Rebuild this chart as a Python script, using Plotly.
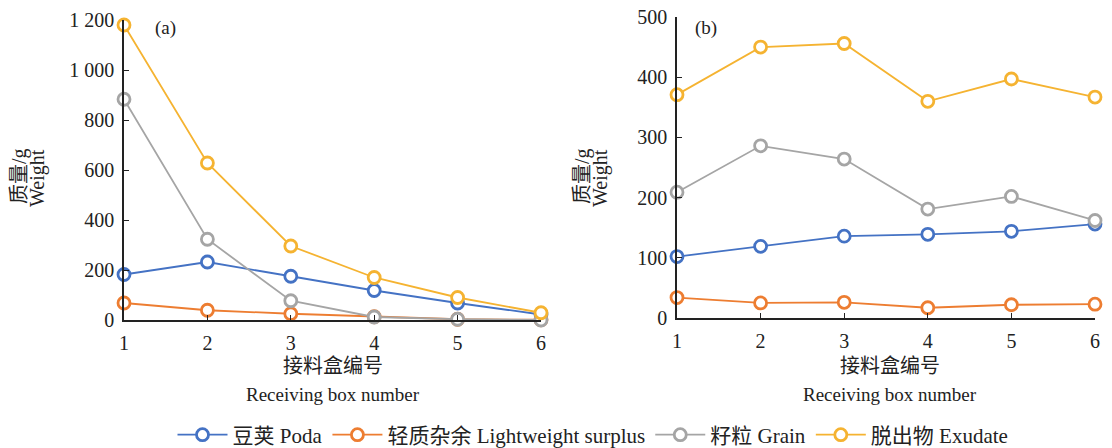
import plotly.graph_objects as go

boxes = [1, 2, 3, 4, 5, 6]

# Panel (a)
poda_a = [182, 232, 175, 118, 68, 22]
light_a = [68, 39, 25, 13, 3, 1]
grain_a = [883, 323, 77, 12, 3, 0]
exudate_a = [1180, 628, 296, 170, 90, 29]

# Panel (b)
poda_b = [102, 119, 136, 139, 144, 156]
light_b = [34, 25, 26, 17, 22, 23]
grain_b = [209, 286, 264, 181, 202, 162]
exudate_b = [371, 450, 456, 360, 397, 367]

names = ["豆荚 Poda", "轻质杂余 Lightweight surplus", "籽粒 Grain", "脱出物 Exudate"]
colors = ["#4472C4", "#ED7D31", "#A5A5A5", "#F5B331"]

FONT = "Liberation Serif, Times New Roman, Noto Sans CJK SC, serif"
W, H = 1112, 448

fig = go.Figure()

series_a = [poda_a, light_a, grain_a, exudate_a]
series_b = [poda_b, light_b, grain_b, exudate_b]

for panel, series, xa, ya in (("a", series_a, "x", "y"), ("b", series_b, "x2", "y2")):
    for i, (name, col) in enumerate(zip(names, colors)):
        fig.add_trace(go.Scatter(
            x=boxes, y=series[i], mode="lines+markers", name=name,
            line=dict(color=col, width=1.8),
            marker=dict(symbol="circle", size=12, color="white",
                        line=dict(color=col, width=2.8)),
            cliponaxis=False, xaxis=xa, yaxis=ya, legendgroup=name,
            showlegend=(panel == "a"),
        ))

axis_common = dict(
    showline=True, linecolor="#222", linewidth=1.5, showgrid=False,
    zeroline=False, ticks="inside", ticklen=5, tickcolor="#222", tickwidth=1.3,
    tickfont=dict(family=FONT, size=20, color="#222"), automargin=False,
)

fig.update_layout(
    width=W, height=H,
    margin=dict(l=0, r=0, t=0, b=0, autoexpand=False),
    paper_bgcolor="white", plot_bgcolor="white",
    separators=". ",
    font=dict(family=FONT, color="#222"),
    xaxis=dict(domain=[124 / W, 541 / W], range=[1, 6], tickvals=boxes,
               anchor="y", ticklabelstandoff=4, **axis_common),
    yaxis=dict(domain=[1 - 320 / H, 1 - 20 / H], range=[0, 1200],
               tickvals=[0, 200, 400, 600, 800, 1000, 1200],
               tickformat=",d", anchor="x", ticklabelstandoff=4, **axis_common),
    xaxis2=dict(domain=[677 / W, 1095 / W], range=[1, 6], tickvals=boxes,
                anchor="y2", ticklabelstandoff=4, **axis_common),
    yaxis2=dict(domain=[1 - 318 / H, 1 - 17 / H], range=[0, 500],
                tickvals=[0, 100, 200, 300, 400, 500],
                anchor="x2", ticklabelstandoff=4, **axis_common),
    legend=dict(orientation="h", x=593 / W, xanchor="center", y=1 - 435 / H, yanchor="middle",
                font=dict(family=FONT, size=21, color="#222"),
                itemwidth=50, tracegroupgap=0, bgcolor="rgba(0,0,0,0)"),
    showlegend=True,
)

annotations = []
# panel labels
for label, cx in (("(a)", 165), ("(b)", 706)):
    annotations.append(dict(text=label, x=cx / W, y=1 - 28 / H, xref="paper", yref="paper",
                            xanchor="center", yanchor="middle",
                            showarrow=False, font=dict(family=FONT, size=19)))
# y-axis titles, two rotated lines each
for cx_cn, cx_en in ((20, 37), (583, 600)):
    annotations.append(dict(text="质量/g", x=cx_cn / W, y=1 - 176 / H,
                            xref="paper", yref="paper", xanchor="center", yanchor="middle",
                            showarrow=False, textangle=-90,
                            font=dict(family=FONT, size=20)))
    annotations.append(dict(text="Weight", x=cx_en / W, y=1 - 178 / H,
                            xref="paper", yref="paper", xanchor="center", yanchor="middle",
                            showarrow=False, textangle=-90,
                            font=dict(family=FONT, size=20)))
# x-axis titles
for cx in (333, 890):
    annotations.append(dict(text="接料盒编号", x=cx / W, y=1 - 366 / H,
                            xref="paper", yref="paper", xanchor="center", yanchor="middle",
                            showarrow=False, font=dict(family=FONT, size=20)))
    annotations.append(dict(text="Receiving box number", x=cx / W, y=1 - 394 / H,
                            xref="paper", yref="paper", xanchor="center", yanchor="middle",
                            showarrow=False, font=dict(family=FONT, size=19)))
fig.update_layout(annotations=annotations)

fig.write_html("out.html")
